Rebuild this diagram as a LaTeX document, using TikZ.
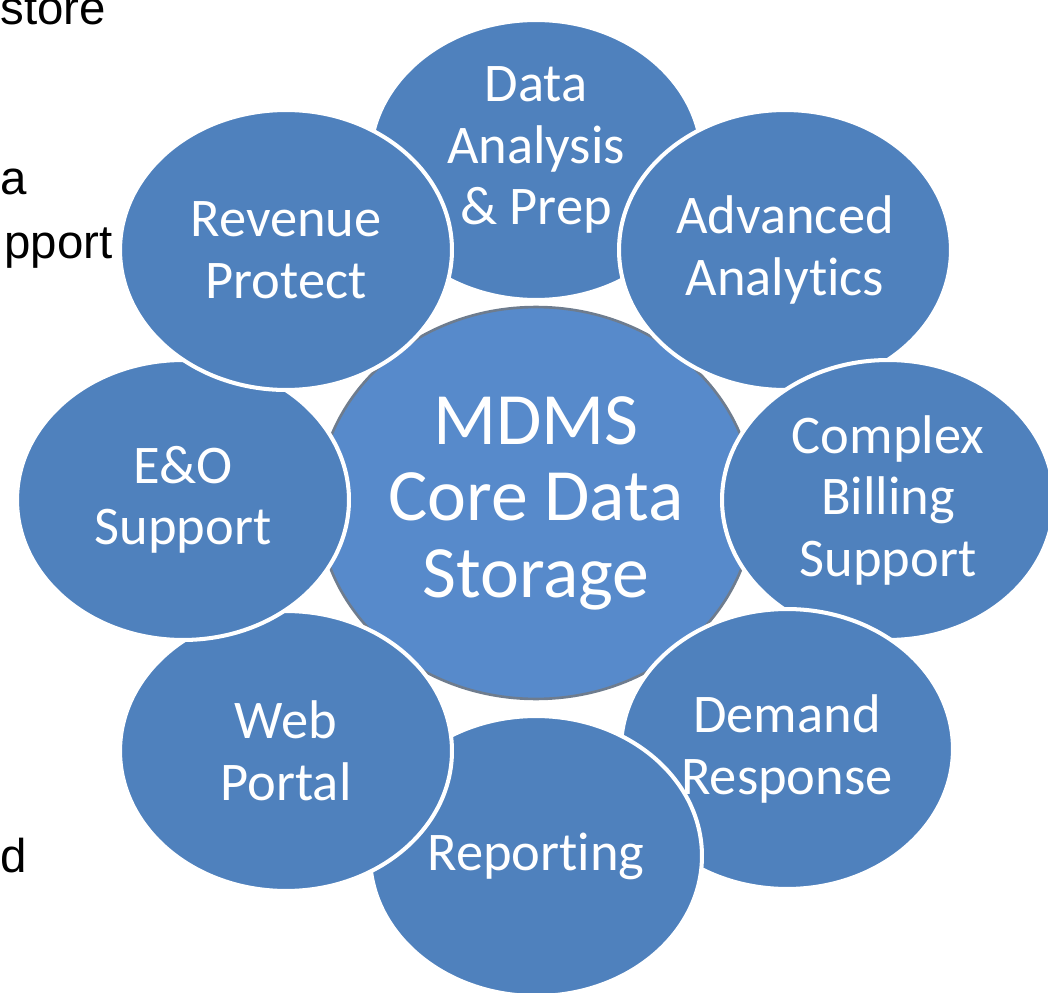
\documentclass[tikz,border=0pt]{standalone}
\usepackage{fontspec}
\setmainfont{Carlito}[Ligatures=NoCommon]
\newfontfamily\sidefont{Liberation Sans}
\usetikzlibrary{shapes.geometric}
\definecolor{bubble}{HTML}{4F81BD}
\definecolor{corefill}{HTML}{578ACB}
\definecolor{corerim}{HTML}{6E7C8E}

\tikzset{
    bubble/.style={ellipse, fill=bubble, draw=white, line width=2.3pt, inner sep=0pt,
        minimum width=6.64cm, minimum height=5.6cm, text=white, align=center,
        font=\fontsize{31}{35}\selectfont},
    bubtext/.style={text=white, align=center, font=\fontsize{31}{35}\selectfont},
    side/.style={anchor=base west, inner sep=0pt, font=\sidefont\fontsize{27}{32}\selectfont}
}

\begin{document}
\begin{tikzpicture}[x=0.02cm, y=-0.02cm]
    \clip (0,0) rectangle (1048,993);

    % Text of the slide behind
    \node[side] (store) at (0,25) {store};
    \node[side] (sa) at (0,195) {a};
    \node[side] (support) at (4,258) {pport};
    \node[side] (sd) at (0,872) {d};

    % Draw the core
    \node[ellipse, minimum width=8.72cm, minimum height=7.84cm, inner sep=0pt,
        fill=corefill, draw=corerim, line width=1.5pt,
        text=white, align=center, font=\fontsize{42}{43.5}\selectfont]
        (core) at (536,503) {MDMS\\Core Data\\Storage};

    % Draw the bubbles, clockwise from the top
    \node[bubble] (data) at (536,160) {};
    \node[bubtext] (datatext) at (536,150) {Data\\Analysis\\\& Prep};
    \node[bubble] (adv) at (785,250) {Advanced\\Analytics};
    \node[bubble] (billing) at (888,500) {Complex\\Billing\\Support};
    \node[bubble] (demand) at (787,749) {Demand\\Response};
    \node[bubble] (report) at (536,856) {Reporting};
    \node[bubble] (web) at (286,751) {Web\\Portal};
    \node[bubble] (eo) at (183,500) {E\&O\\Support};
    \node[bubble] (revenue) at (286,250) {Revenue\\Protect};
\end{tikzpicture}
\end{document}
